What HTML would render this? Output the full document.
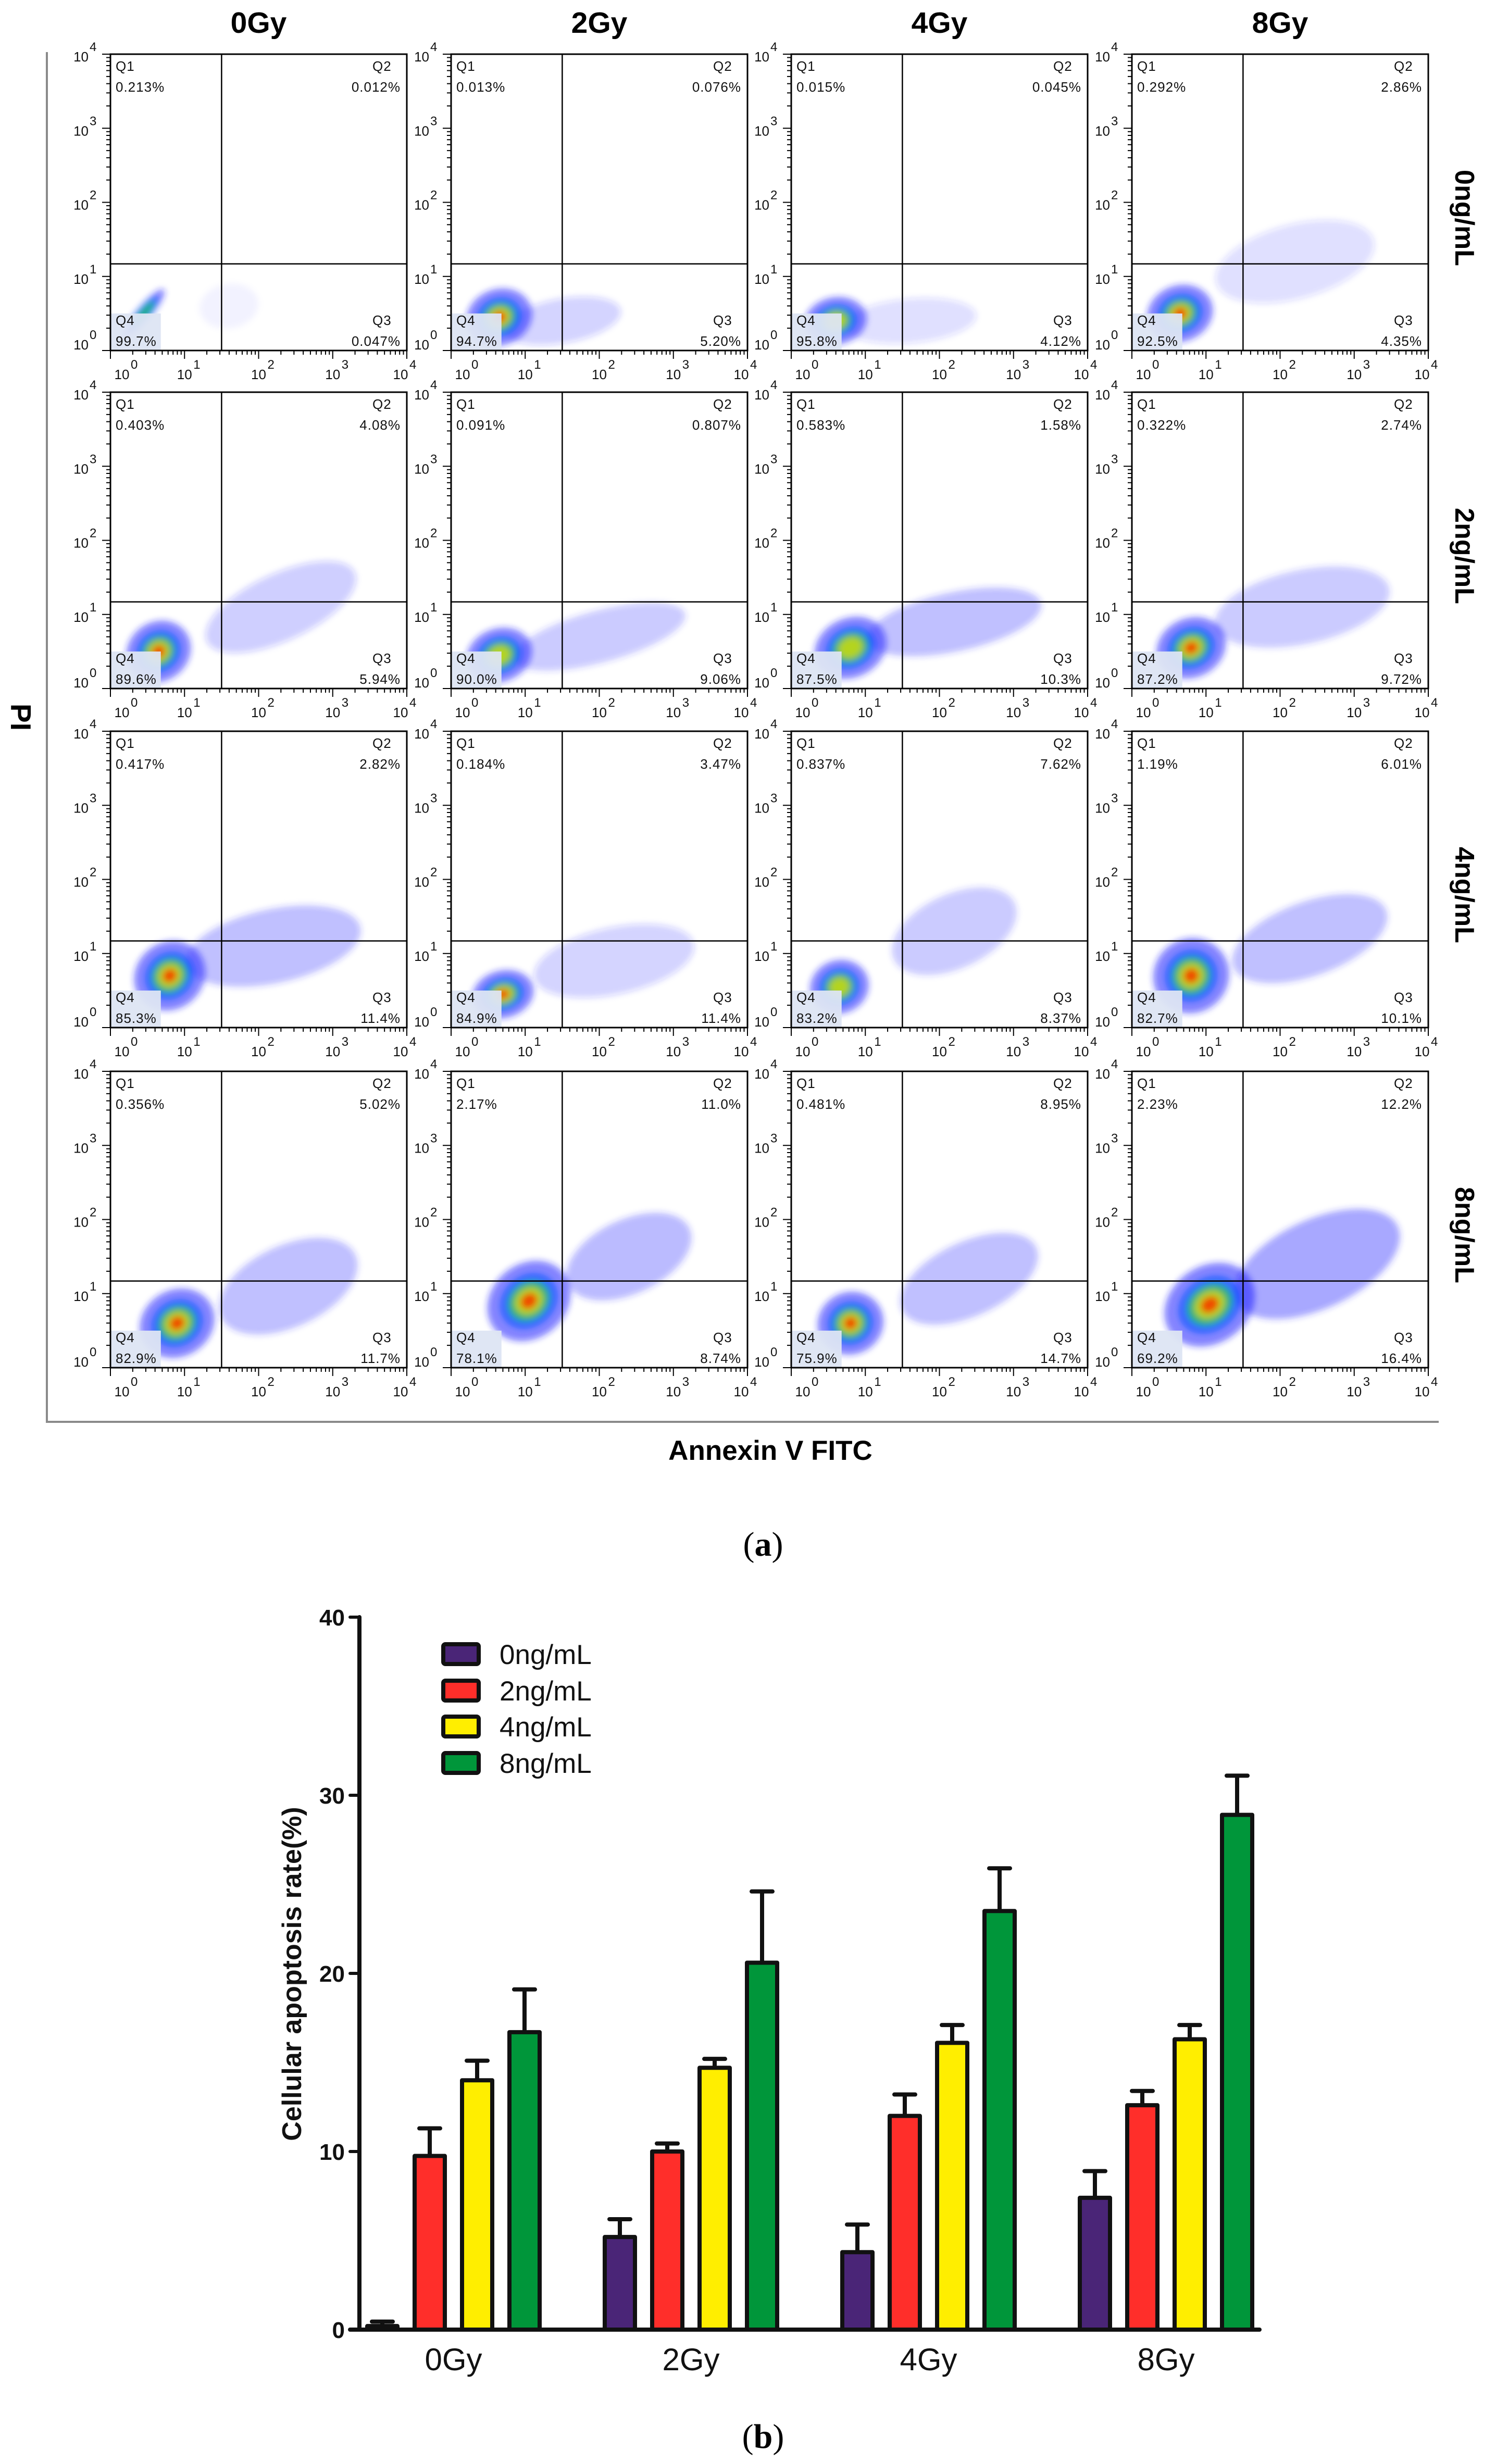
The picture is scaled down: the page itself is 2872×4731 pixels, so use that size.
<!DOCTYPE html>
<html><head><meta charset="utf-8">
<style>
html,body{margin:0;padding:0;background:#fff;}
svg{display:block;}
</style></head>
<body>
<svg id="fig" xmlns="http://www.w3.org/2000/svg" width="2872" height="4731" viewBox="0 0 2872 4731">
<rect x="0" y="0" width="2872" height="4731" fill="#ffffff"/>
</svg>
<script>
// ---------- Panel (a) data ----------
const doseCols = ['0Gy','2Gy','4Gy','8Gy'];
const concRows = ['0ng/mL','2ng/mL','4ng/mL','8ng/mL'];
const quadQ1 = [['0.213%','0.013%','0.015%','0.292%'],['0.403%','0.091%','0.583%','0.322%'],['0.417%','0.184%','0.837%','1.19%'],['0.356%','2.17%','0.481%','2.23%']];
const quadQ2 = [['0.012%','0.076%','0.045%','2.86%'],['4.08%','0.807%','1.58%','2.74%'],['2.82%','3.47%','7.62%','6.01%'],['5.02%','11.0%','8.95%','12.2%']];
const quadQ3 = [['0.047%','5.20%','4.12%','4.35%'],['5.94%','9.06%','10.3%','9.72%'],['11.4%','11.4%','8.37%','10.1%'],['11.7%','8.74%','14.7%','16.4%']];
const quadQ4 = [['99.7%','94.7%','95.8%','92.5%'],['89.6%','90.0%','87.5%','87.2%'],['85.3%','84.9%','83.2%','82.7%'],['82.9%','78.1%','75.9%','69.2%']];
// main cell cluster per panel: [log x, log y, spread x, spread y, tilt deg, density level]
const mainCluster = [
 [[0.45,0.5,0.42,0.1,50,3],[0.65,0.45,0.45,0.38,20,5],[0.6,0.4,0.42,0.32,10,4],[0.65,0.5,0.45,0.38,20,5]],
 [[0.65,0.5,0.45,0.4,35,5],[0.65,0.45,0.45,0.36,20,4],[0.8,0.55,0.5,0.4,25,4],[0.8,0.55,0.48,0.4,25,5]],
 [[0.8,0.7,0.5,0.45,40,5],[0.7,0.45,0.42,0.32,15,5],[0.65,0.55,0.4,0.36,20,4],[0.8,0.7,0.52,0.5,40,5]],
 [[0.9,0.6,0.52,0.45,30,5],[1.05,0.9,0.6,0.5,40,5],[0.8,0.6,0.45,0.42,25,5],[1.05,0.85,0.65,0.52,35,5]]
];
// apoptotic tail per panel: [log x, log y, spread x, spread y, tilt deg, opacity]
const tailCluster = [
 [[1.6,0.6,0.4,0.3,10,0.05],[1.5,0.4,0.8,0.3,10,0.2],[1.6,0.4,0.9,0.3,5,0.15],[2.2,1.2,1.1,0.5,15,0.15]],
 [[2.3,1.1,1.1,0.45,25,0.22],[2.0,0.7,1.2,0.35,15,0.25],[2.2,0.9,1.2,0.4,12,0.3],[2.3,1.1,1.2,0.5,12,0.25]],
 [[2.2,1.1,1.2,0.5,12,0.3],[2.2,0.9,1.1,0.45,12,0.2],[2.2,1.3,0.9,0.5,25,0.25],[2.4,1.2,1.1,0.5,20,0.3]],
 [[2.4,1.1,1.0,0.55,25,0.3],[2.4,1.5,0.9,0.5,25,0.32],[2.4,1.2,1.0,0.5,25,0.3],[2.5,1.4,1.2,0.6,25,0.42]]
];
const gateX = 1.5, gateY = 1.17; // log10 gate positions
const decadeTicks = [0,1,2,3,4];

// ---------- Panel (b) data ----------
const groups = ['0Gy','2Gy','4Gy','8Gy'];
const seriesNames = ['0ng/mL','2ng/mL','4ng/mL','8ng/mL'];
const seriesColors = ['#4a2577','#ff2e2a','#ffee00','#00963a'];
const vals0 = [0.2, 5.2, 4.35, 7.4];
const vals2 = [9.75, 10.0, 12.0, 12.6];
const vals4 = [14.0, 14.7, 16.1, 16.3];
const vals8 = [16.7, 20.6, 23.5, 28.9];
const err0 = [0.25, 1.0, 1.55, 1.5];
const err2 = [1.55, 0.45, 1.2, 0.8];
const err4 = [1.1, 0.5, 1.0, 0.8];
const err8 = [2.4, 4.0, 2.4, 2.2];
const yTicks = [0,10,20,30,40];

const NS='http://www.w3.org/2000/svg';
const svg=document.getElementById('fig');
function mk(tag,attrs,parent,text){const e=document.createElementNS(NS,tag);for(const k in attrs)e.setAttribute(k,attrs[k]);if(text!==undefined)e.textContent=text;(parent||svg).appendChild(e);return e;}

const defs=mk('defs',{});
const blur=mk('filter',{id:'soft',x:'-20%',y:'-20%',width:'140%',height:'140%'},defs);
mk('feGaussianBlur',{stdDeviation:6},blur);

// ----- Panel (a) layout -----
const colX=[212,866,1519,2173], rowY=[104,753,1404,2057], S=569;
function px(c,lx){return colX[c]+lx/4*S;}
function py(r,ly){return rowY[r]+S-ly/4*S;}

let e=mk('path',{d:'M90 100 V2730 H2762',fill:'none',stroke:'#8a8a8a','stroke-width':4});



doseCols.forEach((d,c)=>{
  const t=mk('text',{x:colX[c]+S/2,y:63,'text-anchor':'middle','font-family':'Liberation Sans, sans-serif','font-weight':'bold','font-size':57,fill:'#000'},svg,d);
  
  
});
concRows.forEach((n,r)=>{
  const cx=2811, cy=rowY[r]+S/2+30;
  const t=mk('text',{x:cx,y:cy,'text-anchor':'middle','dominant-baseline':'central',transform:`rotate(90 ${cx} ${cy})`,'font-family':'Liberation Sans, sans-serif','font-weight':'bold','font-size':52,fill:'#000'},svg,n);
  
  
});
e=mk('text',{x:40,y:1377,'text-anchor':'middle','dominant-baseline':'central',transform:'rotate(90 40 1377)','font-family':'Liberation Sans, sans-serif','font-weight':'bold','font-size':55,fill:'#000'},svg,'PI');


e=mk('text',{x:1479,y:2803,'text-anchor':'middle','font-family':'Liberation Sans, sans-serif','font-weight':'bold','font-size':53,fill:'#000'},svg,'Annexin V FITC');



const layers=[[1.0,'#2020ff',0.55],[0.7,'#0a50ff',0.6],[0.5,'#10d040',0.7],[0.34,'#e8e000',0.75],[0.2,'#ff2a00',0.8]];
const fontQ='Liberation Sans, sans-serif';

for(let r=0;r<4;r++){for(let c=0;c<4;c++){
  const g=mk('g',{});
  
  
  const cp=mk('clipPath',{id:'cp'+r+c},defs);
  mk('rect',{x:colX[c],y:rowY[r],width:S,height:S},cp);
  const dots=mk('g',{'clip-path':'url(#cp'+r+c+')'},g);
  
  
  const inner=mk('g',{filter:'url(#soft)'},dots);
  const t=tailCluster[r][c];
  const tx=px(c,t[0]), ty=py(r,t[1]);
  let el=mk('ellipse',{cx:tx,cy:ty,rx:t[2]/4*S,ry:t[3]/4*S,fill:'#2a2aff',opacity:t[5],transform:`rotate(${-t[4]} ${tx} ${ty})`},inner);
  
  
  const m=mainCluster[r][c];
  const mx=px(c,m[0]), my=py(r,m[1]);
  for(let k=0;k<m[5];k++){
    const L=layers[k];
    el=mk('ellipse',{cx:mx,cy:my,rx:m[2]/4*S*L[0],ry:Math.max(m[3],0.06)/4*S*L[0],fill:L[1],opacity:L[2],transform:`rotate(${-m[4]} ${mx} ${my})`},inner);
    
    
  }
  el=mk('rect',{x:px(c,0),y:py(r,0.5),width:0.68/4*S,height:0.5/4*S,fill:'#dde5f3',opacity:0.95},dots);
  
  
  el=mk('line',{x1:px(c,gateX),x2:px(c,gateX),y1:rowY[r],y2:rowY[r]+S,stroke:'#000','stroke-width':2.5},g);
  
  
  el=mk('line',{x1:colX[c],x2:colX[c]+S,y1:py(r,gateY),y2:py(r,gateY),stroke:'#000','stroke-width':2.5},g);
  
  
  el=mk('rect',{x:colX[c],y:rowY[r],width:S,height:S,fill:'none',stroke:'#000','stroke-width':3},g);
  
  
  let tp='';
  decadeTicks.forEach((d,i)=>{
    tp+=`M${colX[c]-16} ${py(r,d)}H${colX[c]}M${px(c,d)} ${rowY[r]+S}v16`;
    if(i<4){for(let m2=2;m2<=9;m2++){const l=d+Math.log10(m2);tp+=`M${colX[c]-8} ${py(r,l)}H${colX[c]}M${px(c,l)} ${rowY[r]+S}v8`;}}
  });
  el=mk('path',{d:tp,stroke:'#000','stroke-width':2,fill:'none'},g);
  
  
  decadeTicks.forEach((d,i)=>{
    const yl=mk('text',{x:colX[c]-42,y:py(r,d)+(i==0?-2:14),'text-anchor':'end','font-family':fontQ,'font-size':26,fill:'#111'},g,'10');
    
    
    const ys=mk('text',{x:colX[c]-40,y:py(r,d)+(i==0?-22:-6),'font-family':fontQ,'font-size':24,fill:'#111'},g,String(d));
    
    
    const xx=px(c,d)+(i==0?22:(i==4?-12:0));
    const xl=mk('text',{x:xx,y:rowY[r]+S+55,'text-anchor':'middle','font-family':fontQ,'font-size':26,fill:'#111'},g,'10');
    
    
    const xs=mk('text',{x:xx+17,y:rowY[r]+S+35,'font-family':fontQ,'font-size':24,fill:'#111'},g,String(d));
    
    
  });
  const L0=colX[c]+10, R0=colX[c]+S-12, T0=rowY[r], B0=rowY[r]+S;
  const qs=[['Q1',L0,T0+32,'start'],[quadQ1[r][c],L0,T0+72,'start'],['Q2',R0-54,T0+32,'start'],[quadQ2[r][c],R0,T0+72,'end'],
            ['Q3',R0-54,B0-49,'start'],[quadQ3[r][c],R0,B0-9,'end'],['Q4',L0,B0-49,'start'],[quadQ4[r][c],L0,B0-9,'start']];
  qs.forEach((q,k)=>{
    const qt=mk('text',{x:q[1],y:q[2],'text-anchor':q[3],'font-family':fontQ,'font-size':26,'letter-spacing':1,fill:'#111'},g,q[0]);
    
    
  });
}}

e=mk('text',{x:1465,y:2987,'text-anchor':'middle','font-family':'Liberation Serif, serif','font-size':66,fill:'#000'},svg);


e.innerHTML='(<tspan font-weight="bold">a</tspan>)';

// ----- Panel (b) -----
const Y0=4473, PXU=34.2, AX=690;
function yScale(v){return Y0-v*PXU;}
function groupX(gi){return 701+gi*456;}
function barX(gi,si){return groupX(gi)+si*91;}
const allVals=[vals0,vals2,vals4,vals8], allErr=[err0,err2,err4,err8];

groups.forEach((gname,gi)=>{
  allVals.forEach((vals,si)=>{
    const v=vals[gi], er=allErr[si][gi];
    const x=barX(gi,si)+4, w=58;
    const cxm=x+w/2;
    let el=mk('line',{x1:cxm,x2:cxm,y1:yScale(v),y2:yScale(v+er),stroke:'#111','stroke-width':8},svg);
    
    
    el=mk('line',{x1:cxm-20,x2:cxm+20,y1:yScale(v+er),y2:yScale(v+er),stroke:'#111','stroke-width':8,'stroke-linecap':'round'},svg);
    
    
    el=mk('rect',{x:x,y:yScale(v),width:w,height:Math.max(0.5,yScale(0)-yScale(v)),fill:seriesColors[si],stroke:'#111','stroke-width':8,'stroke-linejoin':'round'},svg);
    
    
  });
  const gl=mk('text',{x:(groupX(gi)+barX(gi,3)+66)/2,y:4551,'text-anchor':'middle','font-family':'Liberation Sans, sans-serif','font-size':60,fill:'#111'},svg,gname);
  
  
});

e=mk('path',{d:`M${AX} ${yScale(40)} V${Y0} M672 ${Y0} H2418`,stroke:'#111','stroke-width':8,fill:'none','stroke-linecap':'round'},svg);


yTicks.forEach(v=>{
  let el=mk('line',{x1:672,x2:AX,y1:yScale(v),y2:yScale(v),stroke:'#111','stroke-width':6,'stroke-linecap':'round'},svg);
  
  
  el=mk('text',{x:662,y:yScale(v)+16,'text-anchor':'end','font-family':'Liberation Sans, sans-serif','font-weight':'bold','font-size':44,fill:'#111'},svg,String(v));
  
  
});
e=mk('text',{x:578,y:3790,'text-anchor':'middle','transform':'rotate(-90 578 3790)','font-family':'Liberation Sans, sans-serif','font-weight':'bold','font-size':52,fill:'#111'},svg,'Cellular apoptosis rate(%)');



const legY=[3176,3246,3315,3385];
seriesNames.forEach((n,i)=>{
  let el=mk('rect',{x:851,y:legY[i]-19,width:68,height:38,rx:4,fill:seriesColors[i],stroke:'#111','stroke-width':8},svg);
  
  
  el=mk('text',{x:959,y:legY[i]+19,'font-family':'Liberation Sans, sans-serif','font-size':53,fill:'#111'},svg,n);
  
  
});

e=mk('text',{x:1465,y:4700,'text-anchor':'middle','font-family':'Liberation Serif, serif','font-size':66,fill:'#000'},svg);


e.innerHTML='(<tspan font-weight="bold">b</tspan>)';
</script>
</body></html>
